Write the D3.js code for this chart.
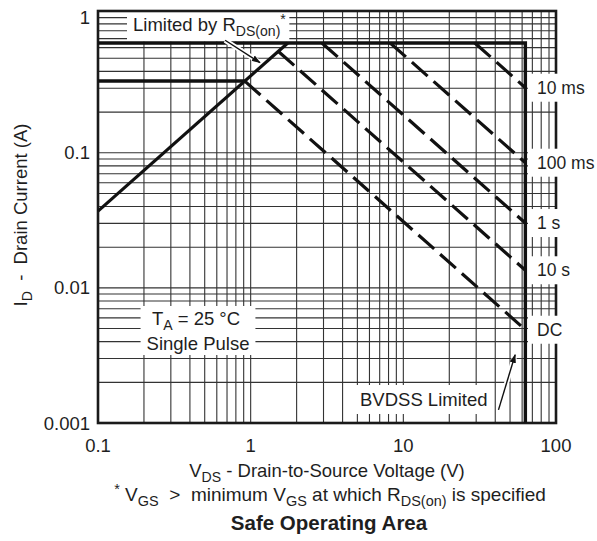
<!DOCTYPE html>
<html><head><meta charset="utf-8">
<script src="https://cdn.jsdelivr.net/npm/d3@7"></script>
<style>
body{margin:0;background:#fff}
svg{display:block}
text{font-family:"Liberation Sans",Arial,Helvetica,sans-serif;fill:#1e1e1e;white-space:pre}
</style>
</head><body>
<svg id="c" width="597" height="541"></svg>
<script>
// ---------- data ----------
const xTickValues = [0.1, 1, 10, 100];
const xTickLabels = ["0.1", "1", "10", "100"];
const yTickValues = [0.001, 0.01, 0.1, 1];
const yTickLabels = ["0.001", "0.01", "0.1", "1"];

// limit lines [V, A]
const pulsedCurrentLimit = [[0.1, 0.65], [63, 0.65], [63, 0.001]];
const dcCurrentLimit = [[0.1, 0.34], [0.915, 0.34]];
const rdsOnLimit = [[0.1, 0.037], [1.75, 0.65]];

// pulse-width lines (dashed)
const pulseNames = ["10 ms", "100 ms", "1 s", "10 s", "DC"];
const pulseStart = [[29.4, 0.65], [8.2, 0.65], [2.93, 0.65], [1.52, 0.562], [0.915, 0.339]];
const pulseEnd = [[63, 0.303], [63, 0.0844], [63, 0.0302], [63, 0.0135], [63, 0.0049]];

// ---------- layout ----------
const svg = d3.select("#c");
const L = 98, R = 556, T = 11, B = 423;
const x = d3.scaleLog().domain([0.1, 100]).range([L, R]);
const y = d3.scaleLog().domain([0.001, 1.12]).range([B, T]);
const FS = 18.5;

// grid
const grid = svg.append("g").attr("stroke", "#333").attr("stroke-width", 1.1);
grid.selectAll("line.v").data(x.ticks()).join("line")
  .attr("x1", d => x(d)).attr("x2", d => x(d)).attr("y1", T).attr("y2", B);
grid.selectAll("line.h").data(y.ticks()).join("line")
  .attr("y1", d => y(d)).attr("y2", d => y(d)).attr("x1", L).attr("x2", R);

// rich text helper
function rich(sel, parts, size) {
  let shift = 0;
  parts.forEach(p => {
    const target = p.sub ? size * 0.25 : p.sup ? -size * 0.38 : 0;
    const ts = sel.append("tspan")
      .attr("dy", (p.dy || 0) + target - shift)
      .attr("font-size", (p.sub || p.sup) ? size * 0.76 : size)
      .text(p.t);
    if (p.x !== undefined) ts.attr("x", p.x);
    shift = target;
  });
  return sel;
}
function boxed(g, tx, ty, parts, anchor, pad, size) {
  const fs = size || FS;
  const grp = g.append("g");
  const rect = grp.append("rect").attr("fill", "#fff");
  const t = grp.append("text").attr("x", tx).attr("y", ty).attr("text-anchor", anchor || "start").attr("font-size", fs);
  rich(t, parts, fs);
  const bb = t.node().getBBox();
  rect.attr("x", bb.x - pad[3]).attr("y", bb.y - pad[0])
      .attr("width", bb.width + pad[1] + pad[3]).attr("height", bb.height + pad[0] + pad[2]);
  return grp;
}

const ann = svg.append("g");

// border
svg.append("rect").attr("x", L).attr("y", T).attr("width", R - L).attr("height", B - T)
  .attr("fill", "none").attr("stroke", "#1a1a1a").attr("stroke-width", 2.6);

// curves
const line = d3.line().x(d => x(d[0])).y(d => y(d[1]));
const curves = svg.append("g").attr("fill", "none").attr("stroke", "#111");
curves.append("path").attr("d", line(pulsedCurrentLimit)).attr("stroke-width", 3.4);
curves.append("path").attr("d", line(dcCurrentLimit)).attr("stroke-width", 3.4);
curves.append("path").attr("d", line(rdsOnLimit)).attr("stroke-width", 3.2);
pulseNames.forEach((n, i) => {
  curves.append("path").attr("d", line([pulseStart[i], pulseEnd[i]]))
    .attr("stroke-width", 3.2).attr("stroke-dasharray", "21,8");
});

// right-side labels
const rl = svg.append("g");
pulseNames.forEach((n, i) => {
  boxed(rl, 537, y(pulseEnd[i][1]) + 6, [{t: n}], "start", [4, 10, 4, 9], 17.5);
});

// Limited by RDS(on) label
boxed(ann, 133, 31, [{t: "Limited by R"}, {t: "DS(on)", sub: true}, {t: "*", sup: true}], "start", [5, 3, 3, 6]);

// T_A box (single text, two lines)
const taG = ann.append("g");
const taRect = taG.append("rect").attr("fill", "#fff");
const ta = taG.append("text").attr("x", 196).attr("y", 325).attr("text-anchor", "middle").attr("font-size", FS);
rich(ta, [{t: "T"}, {t: "A", sub: true}, {t: " = 25 °C"},
          {t: "Single Pulse", x: 198, dy: 25}], FS);
{
  const b = ta.node().getBBox();
  taRect.attr("x", b.x - 6).attr("y", b.y - 2).attr("width", b.width + 12).attr("height", b.height + 3);
}
// BVDSS label
boxed(ann, 360, 406, [{t: "BVDSS Limited"}], "start", [4, 5, 4, 5]);

// arrows
const defs = svg.append("defs");
defs.append("marker").attr("id", "ah").attr("viewBox", "0 0 10 10").attr("refX", 9).attr("refY", 5)
  .attr("markerWidth", 9).attr("markerHeight", 9).attr("orient", "auto-start-reverse")
  .attr("markerUnits", "userSpaceOnUse")
  .append("path").attr("d", "M0,1.5 L10,5 L0,8.5 Z").attr("fill", "#111");
const arrows = svg.append("g");
function arrow(x1, y1, x2, y2) {
  arrows.append("line").attr("x1", x1).attr("y1", y1).attr("x2", x2).attr("y2", y2)
    .attr("stroke", "#fff").attr("stroke-width", 5);
  arrows.append("line").attr("x1", x1).attr("y1", y1).attr("x2", x2).attr("y2", y2)
    .attr("stroke", "#111").attr("stroke-width", 1.4).attr("marker-end", "url(#ah)");
}
arrow(x(0.68), y(0.68), x(1.15), y(0.465));
arrow(x(42), y(0.00125), x(54), y(0.0032));

// tick labels
const ax = svg.append("g");
ax.selectAll("text.xt").data(xTickValues).join("text")
  .attr("x", d => x(d)).attr("y", 452).attr("text-anchor", "middle").attr("font-size", FS)
  .text((d, i) => xTickLabels[i]);
ax.selectAll("text.yt").data(yTickValues).join("text")
  .attr("x", 90).attr("y", d => y(d) + 6.5).attr("text-anchor", "end").attr("font-size", FS)
  .text((d, i) => yTickLabels[i]);

// axis titles
const xt = svg.append("text").attr("x", 327).attr("y", 477).attr("text-anchor", "middle").attr("font-size", FS);
rich(xt, [{t: "V"}, {t: "DS", sub: true}, {t: " - Drain-to-Source Voltage (V)"}], FS);

const yt = svg.append("text").attr("transform", "translate(27,215) rotate(-90)").attr("text-anchor", "middle").attr("font-size", FS);
rich(yt, [{t: "I"}, {t: "D", sub: true}, {t: "  -  Drain Current (A)"}], FS);

const fn = svg.append("text").attr("x", 330).attr("y", 501).attr("text-anchor", "middle").attr("font-size", 19);
rich(fn, [{t: "*", sup: true}, {t: " V"}, {t: "GS", sub: true}, {t: "  >  minimum V"}, {t: "GS", sub: true},
          {t: " at which R"}, {t: "DS(on)", sub: true}, {t: " is specified"}], 19);

svg.append("text").attr("x", 329).attr("y", 530).attr("text-anchor", "middle").attr("font-size", 20.5)
  .attr("font-weight", "bold").text("Safe Operating Area");
</script>
</body></html>
